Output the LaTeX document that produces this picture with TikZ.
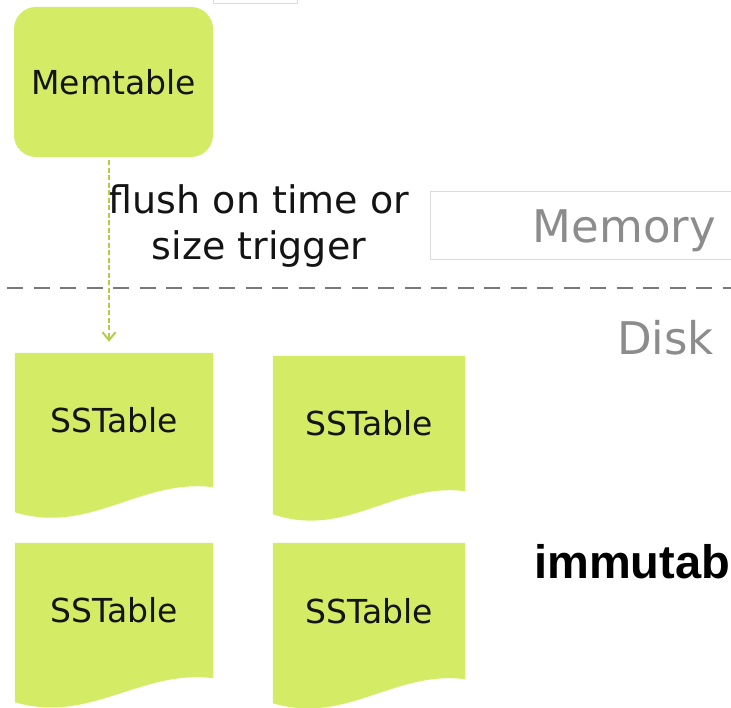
\documentclass[tikz,border=0pt]{standalone}
\usepackage{fontspec}
\setmainfont{DejaVu Sans}
\newfontfamily\arialfont{Liberation Sans}
\usetikzlibrary{arrows.meta,backgrounds,calc}
\definecolor{lsmgreen}{RGB}{211,235,101}
\definecolor{flowgreen}{RGB}{182,204,72}
\definecolor{lblgray}{RGB}{140,140,140}
\definecolor{sepgray}{RGB}{120,120,120}
\definecolor{boxgray}{RGB}{220,220,220}
\definecolor{inkblack}{RGB}{20,20,20}
\begin{document}
\begin{tikzpicture}[x=1pt,y=-1pt,
  memstyle/.style={rounded corners=22pt, fill=lsmgreen, minimum width=199pt, minimum height=150pt, inner sep=0pt, text=inkblack, font=\fontsize{33}{40}\selectfont},
  ssnode/.style={inner sep=0pt, text=inkblack, font=\fontsize{33}{40}\selectfont},
  ssfill/.style={fill=lsmgreen},
  flow/.style={draw=flowgreen, line width=2pt, dash pattern=on 5pt off 2.5pt, -{Straight Barb[length=8pt,width=13pt,line width=2pt]}},
  sepline/.style={draw=sepgray, line width=2.5pt, dash pattern=on 16pt off 10.5pt},
  lbl/.style={text=lblgray, font=\fontsize{45}{54}\selectfont, inner sep=0pt},
  thinbox/.style={draw=boxgray, line width=1pt}
]
\useasboundingbox (0,0) rectangle (731,708);

% top partial box
\draw[thinbox] (213,-5) rectangle (297,4);

% memory label box
\draw[thinbox] (735,192) -- (430,192) -- (430,260) -- (735,260);
\node[lbl, anchor=base east] (memlbl) at (716,243) {Memory};
\node[lbl, anchor=base east] (disklbl) at (714,355) {Disk};

% memtable
\node[memstyle] (mem) at (113.5,82) {Memtable};

% sstables
\node[ssnode, minimum width=198pt, minimum height=134pt] (ss1) at (114,420) {SSTable};
\node[ssnode, minimum width=192pt, minimum height=135pt] (ss2) at (369,423.5) {SSTable};
\node[ssnode, minimum width=198pt, minimum height=135pt] (ss3) at (114,610.5) {SSTable};
\node[ssnode, minimum width=192pt, minimum height=136pt] (ss4) at (369,611) {SSTable};

\begin{scope}[on background layer]
\fill[ssfill] (ss1.north west) -- (ss1.north east) -- (ss1.south east)
  .. controls ([shift={(-73,-9)}]ss1.south east) and ([shift={(-123,48)}]ss1.south east)
  .. ([shift={(0,25)}]ss1.south west) -- cycle;
\fill[ssfill] (ss2.north west) -- (ss2.north east) -- (ss2.south east)
  .. controls ([shift={(-71,-9)}]ss2.south east) and ([shift={(-119,48)}]ss2.south east)
  .. ([shift={(0,23)}]ss2.south west) -- cycle;
\fill[ssfill] (ss3.north west) -- (ss3.north east) -- (ss3.south east)
  .. controls ([shift={(-73,-9)}]ss3.south east) and ([shift={(-123,46)}]ss3.south east)
  .. ([shift={(0,24)}]ss3.south west) -- cycle;
\fill[ssfill] (ss4.north west) -- (ss4.north east) -- (ss4.south east)
  .. controls ([shift={(-71,-9)}]ss4.south east) and ([shift={(-119,46)}]ss4.south east)
  .. ([shift={(0,24)}]ss4.south west) -- cycle;
\end{scope}

% separator
\draw[sepline] (7,288) -- (731,288);

% flush label
\node[font=\fontsize{38}{46}\selectfont, align=center, inner sep=0pt, text=inkblack] (flushlbl) at (259,226) {flush on time or\\size trigger};

% flush arrow
\coordinate (ftop) at ([xshift=-4.5pt,yshift=-3pt]mem.south);
\coordinate (fend) at (ftop |- ss1.north);
\draw[flow] (ftop) -- ([yshift=11pt]fend);

% immutable
\node[anchor=base west, inner sep=0pt, text=black, font=\arialfont\bfseries\fontsize{47}{56}\selectfont] (imm) at (534,578) {immutab};
\end{tikzpicture}
\end{document}
